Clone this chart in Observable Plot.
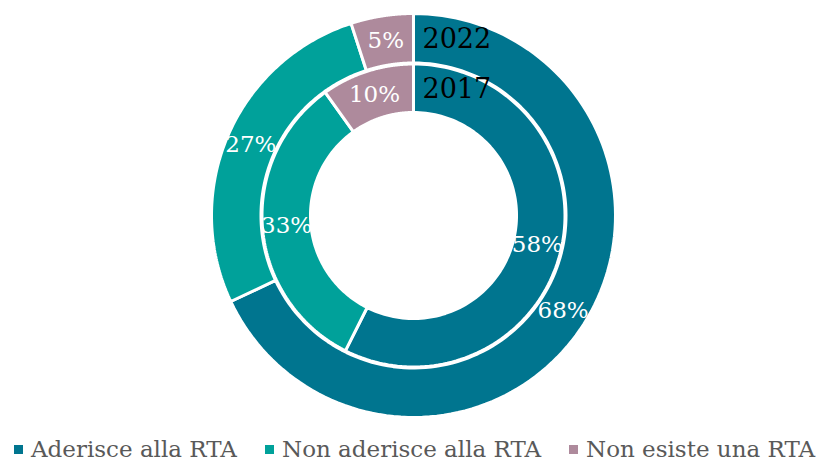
<!DOCTYPE html>
<html><head><meta charset="utf-8">
<script src="https://cdn.jsdelivr.net/npm/d3@7"></script>
<script src="https://cdn.jsdelivr.net/npm/@observablehq/plot@0.6"></script>
<style>
body{margin:0;background:#fff;font-family:"DejaVu Serif",serif;}
#legend{height:31px;color:#595959;font-size:23px;font-family:"DejaVu Serif",serif;}
.item{display:flex;align-items:center;position:absolute;line-height:26px;}
.sw{width:9px;height:9px;margin-right:8px;}
</style></head>
<body><div id="chart"></div><div id="legend"></div>
<script>
const categories = ["Aderisce alla RTA", "Non aderisce alla RTA", "Non esiste una RTA"];
const colors = ["#00758F", "#00A19A", "#AE8A9C"];
const years = ["2022", "2017"];
const values2022 = [68, 27, 5];
const values2017 = [58, 33, 10];

const W = 821, H = 430, R = 202;
const rings = [
  {year: "2022", values: values2022, r0: 0.755, r1: 1.0},
  {year: "2017", values: values2017, r0: 0.51, r1: 0.75}
];
const pie = d3.pie().sort(null).value(d => d)
  .startAngle(0).endAngle(2 * Math.PI);
const polys = [], labels = [], yearLabels = [];
rings.forEach(ring => {
  pie(ring.values).forEach((a, i) => {
    const key = ring.year + "-" + i;
    const n = 120;
    const pts = [];
    for (let k = 0; k <= n; k++) {
      const t = a.startAngle + (a.endAngle - a.startAngle) * k / n;
      pts.push({x: ring.r1 * Math.sin(t), y: ring.r1 * Math.cos(t)});
    }
    for (let k = n; k >= 0; k--) {
      const t = a.startAngle + (a.endAngle - a.startAngle) * k / n;
      pts.push({x: ring.r0 * Math.sin(t), y: ring.r0 * Math.cos(t)});
    }
    pts.push(pts[0]);
    pts.forEach(p => polys.push({key, cat: categories[i], x: p.x, y: p.y}));
    const mid = (a.startAngle + a.endAngle) / 2, rm = (ring.r0 + ring.r1) / 2;
    labels.push({x: rm * Math.sin(mid), y: rm * Math.cos(mid), text: ring.values[i] + "%"});
  });
  yearLabels.push({x: 0, y: (ring.r0 + ring.r1) / 2, text: ring.year});
});

const cx = 413, cy = 215;
const chart = Plot.plot({
  width: W, height: H,
  margin: 0,
  x: {domain: [-cx / R, (W - cx) / R], range: [0, W], axis: null},
  y: {domain: [-(H - cy) / R, cy / R], range: [H, 0], axis: null},
  color: {domain: categories, range: colors},
  style: {background: "white"},
  marks: [
    Plot.line(polys, {x: "x", y: "y", z: "key", fill: "cat", stroke: "white", strokeWidth: 3, strokeLinejoin: "miter", curve: "linear"}),
    Plot.text(labels, {x: "x", y: "y", text: "text", fill: "white", fontSize: 23, fontFamily: "DejaVu Serif"}),
    Plot.text(yearLabels, {x: "x", y: "y", text: "text", fill: "black", fontSize: 27, textAnchor: "start", dx: 9, dy: 1, fontFamily: "DejaVu Serif"})
  ]
});
document.getElementById("chart").appendChild(chart);

const lg = document.getElementById("legend");
lg.style.position = "relative";
const lefts = [14, 265, 569];
categories.forEach((c, i) => {
  const it = document.createElement("div");
  it.className = "item";
  it.style.left = lefts[i] + "px";
  it.style.top = "6px";
  it.innerHTML = `<span class="sw" style="background:${colors[i]}"></span><span>${c}</span>`;
  lg.appendChild(it);
});
</script></body></html>
